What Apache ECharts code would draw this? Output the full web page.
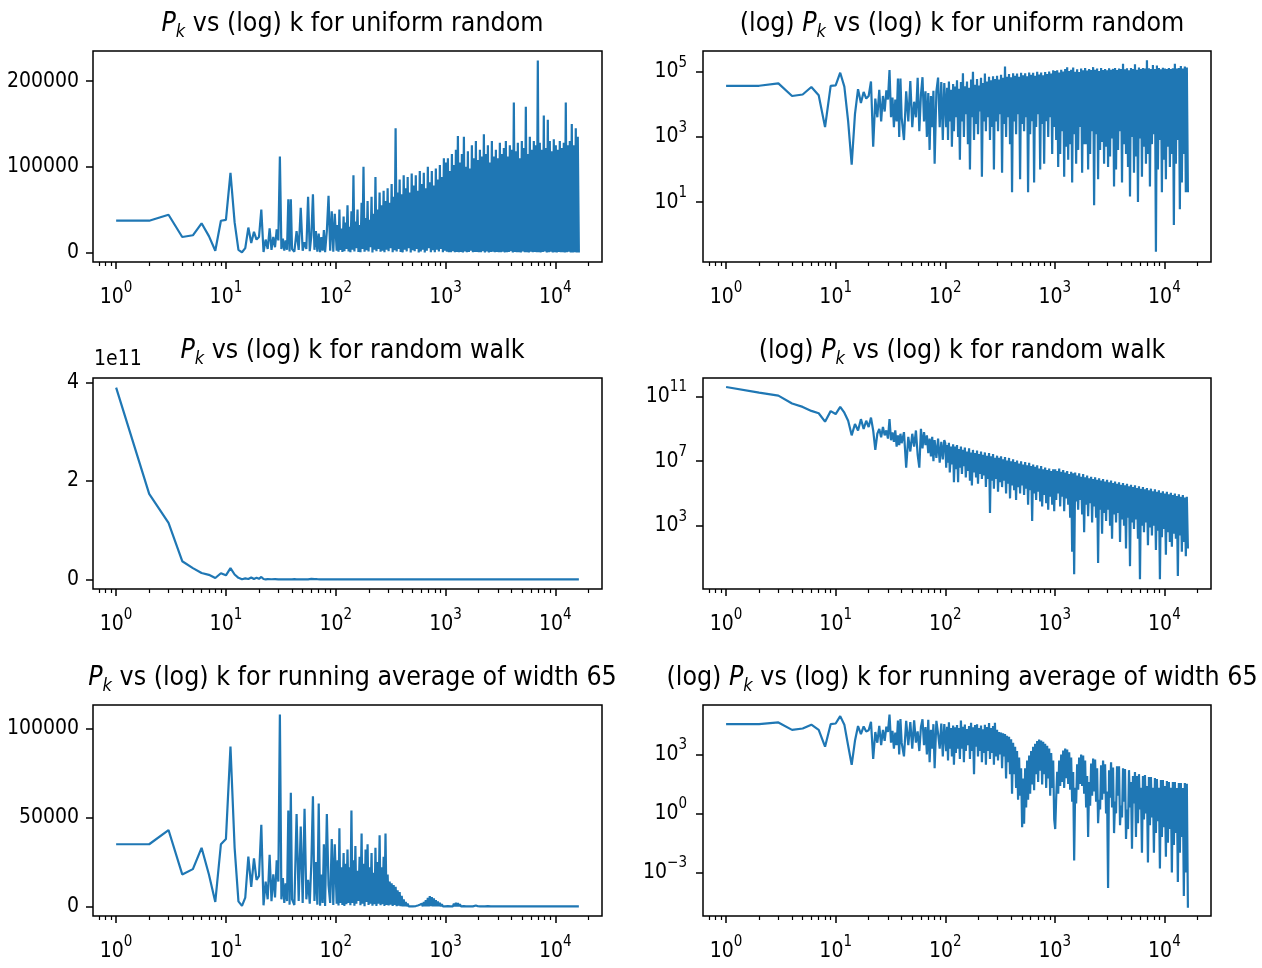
<!DOCTYPE html>
<html>
<head>
<meta charset="utf-8">
<title>Power spectra</title>
<script src="https://cdn.jsdelivr.net/npm/echarts@6/dist/echarts.min.js"></script>
<style>
  html, body { margin: 0; padding: 0; background: #fff; }
  #chart { width: 1262px; height: 968px; }
</style>
</head>
<body>
<div id="chart"></div>
<script>
  // wave numbers k (shared by the three spectra)
  const kValues = [
    1, 2, 3, 4, 5, 6, 7, 8, 9, 10, 11, 12, 13, 14, 15, 16, 17, 18, 19, 20,
    21, 22, 23, 24, 25, 26, 27, 28, 29, 30, 31, 32, 33, 34, 35, 36, 37, 38, 39, 40,
    42, 44, 46, 48, 50, 52, 54, 56, 58, 60, 62, 64, 66, 68, 70, 72, 74, 76, 78, 80, 83, 86, 89, 92, 95, 98,
    100, 102, 104, 106, 108, 110, 113, 115, 118, 120, 123, 125, 128, 131, 133, 136, 139, 142, 145, 148,
    151, 154, 158, 161, 165, 168, 172, 175, 179, 183, 187, 191, 195, 199, 203, 207, 212, 216, 221, 226,
    230, 235, 240, 245, 251, 256, 261, 267, 273, 278, 284, 290, 297, 303, 310, 316, 323, 330, 337, 344,
    351, 359, 366, 374, 382, 390, 399, 407, 416, 425, 434, 443, 452, 462, 472, 482, 492, 503, 513, 524,
    536, 547, 559, 570, 583, 595, 608, 621, 634, 647, 661, 675, 690, 704, 719, 735, 750, 766, 783, 799,
    816, 834, 851, 870, 888, 907, 926, 946, 966, 987,
    1008, 1029, 1051, 1073, 1096, 1119, 1143, 1167, 1192, 1217, 1243, 1269, 1296, 1324, 1352, 1380, 1409, 1439, 1470, 1501,
    1533, 1565, 1598, 1632, 1667, 1702, 1738, 1775, 1813, 1851, 1890, 1930, 1971, 2013, 2056, 2099, 2144, 2189, 2235, 2283,
    2331, 2380, 2431, 2482, 2535, 2588, 2643, 2699, 2756, 2815, 2874, 2935, 2997, 3061, 3125, 3191, 3259, 3328, 3398, 3470,
    3544, 3619, 3695, 3774, 3853, 3935, 4018, 4103, 4190, 4279, 4369, 4462, 4556, 4653, 4751, 4852, 4954, 5059, 5166, 5276,
    5387, 5501, 5618, 5737, 5858, 5982, 6109, 6238, 6370, 6505, 6643, 6783, 6927, 7074, 7224, 7376, 7533, 7692, 7855, 8021,
    8191, 8365, 8542, 8723, 8907, 9096, 9289, 9485, 9686, 9891, 10101, 10314, 10533, 10756, 10984, 11216, 11454, 11696, 11944, 12197,
    12455, 12719, 12988, 13263, 13544, 13831, 14124, 14423, 14728, 15040, 15358, 15683, 16015, 16384
  ]

  // P_k of the uniform random signal
  const uniformPower = [
    3.7e4, 3.7e4, 4.4e4, 1.8e4, 2.0e4, 3.4e4, 1.9e4, 2.0e3, 3.7e4, 3.8e4,
    9.3e4, 3.5e4, 3.0e3, 1.4e2, 5.0e3, 2.9e4, 1.1e4, 2.4e4, 1.5e4, 1.8e4,
    5.0e4, 5.0e2, 1.5e4, 4.0e3, 2.8e4, 3.0e3, 1.8e4, 6.0e3, 2.7e4, 1.4e4,
    1.12e5, 4.0e3, 1.6e4, 2.0e3, 1.4e4, 3.0e3, 6.2e4, 1.0e3, 6.2e4, 4.0e3,
    8e2, 2.5e4, 3e3, 5.2e4, 2e3, 1.2e4, 4e3, 6.5e4, 1.5e3, 2e4, 6.8e4, 3e3, 2.5e4,
    1e3, 2.2e4, 4e2, 1.8e4, 2e3, 2.6e4, 1.5e2, 2.5e4, 6.6e4, 2e3, 4.8e4, 8e2, 4.5e4,
    4.5e4, 2e3, 3.2e4, 8e2, 5e4, 3e3, 2.8e4, 5e2, 4.2e4, 1.5e3,
    3.5e4, 4e3, 5.5e4, 1e3, 3e4, 2e2, 4.8e4, 3e3, 9e4, 1e3,
    3.6e4, 5e3, 5e4, 6e2, 3.2e4, 1e2, 5.8e4, 4e3, 1e5, 8e2,
    4e4, 2.5e3, 6e4, 1.2e3, 3.8e4, 6e3, 6.5e4, 60, 4.5e4, 3e3,
    8.8e4, 1.5e3, 5e4, 4e3, 7e4, 8e2, 5.5e4, 2e3, 7.2e4, 1e2,
    6e4, 3e3, 7.5e4, 1.5e3, 5.8e4, 5e3, 8e4, 80, 6.5e4, 2.5e3,
    1.45e5, 1e3, 7e4, 4e3, 8.5e4, 6e2, 6.8e4, 2e1, 9e4, 3e3,
    7.5e4, 1.2e3, 8.8e4, 5e3, 7e4, 50, 9.2e4, 2.5e3, 7.8e4, 1.5e3,
    9e4, 4e3, 7.2e4, 2e1, 9.5e4, 1.2e3, 8e4, 3e3, 9.3e4, 40,
    7.5e4, 2e3, 1e5, 5e3, 8.2e4, 1e2, 9.5e4, 2.5e3, 7.8e4, 1.5e2,
    9.8e4, 3e3, 8.5e4, 1e3, 1.02e5, 4e3, 8.8e4, 3e2, 1.1e5, 2e3,
    1.05e5, 8e2, 1.1e5, 1.2e2, 9.5e4, 3e2, 1.15e5, 1.5e3, 1.02e5, 60,
    1.2e5, 5e2, 1.36e5, 2e2, 1.05e5, 6e2, 1.15e5, 4e1, 1.35e5, 1.2e3,
    1.0e5, 1.5e2, 1.18e5, 4e2, 9.8e4, 2e3, 1.25e5, 80, 1.1e5, 6e2,
    1.3e5, 6e2, 1.08e5, 1e2, 1.2e5, 3e2, 1.12e5, 1.5e3, 1.38e5, 8,
    1.15e5, 1.2e3, 1.25e5, 50, 1.05e5, 4e2, 1.3e5, 7e2, 1.12e5, 1.5e2,
    1.2e5, 5e2, 1.1e5, 1.2e2, 1.28e5, 2.5e2, 1.15e5, 9e2, 1.22e5, 3e1,
    1.3e5, 1e2, 1.12e5, 4e2, 1.25e5, 1.5e3, 1.2e5, 40, 1.75e5, 6e2,
    1.18e5, 3e2, 1.28e5, 1.2e2, 1.1e5, 1.5e1, 1.3e5, 1e3, 1.22e5, 80,
    1.7e5, 2.5e2, 1.15e5, 1e1, 1.35e5, 9e2, 1.2e5, 60, 1.3e5, 5e2,
    1.25e5, 1.5e2, 2.24e5, 3e2, 1.28e5, 30, 1.2e5, 6e2, 1.6e5, 1.2e3,
    1.22e5, 0.3, 1.55e5, 1e2, 1.3e5, 8e2, 1.18e5, 2e1, 1.32e5, 2e2,
    1.25e5, 50, 1.2e5, 5e2, 1.3e5, 1.2e2, 1.22e5, 3e2, 1.28e5, 2,
    1.75e5, 1.5e2, 1.25e5, 8e2, 1.3e5, 6, 1.5e5, 40, 1.25e5, 3e2,
    1.45e5, 2e1, 1.35e5, 2e1
  ]

  // P_k of the random walk
  const walkPower = [
    3.9e11, 1.74e11, 1.15e11, 3.7e10, 2.3e10, 1.3e10, 9.3e9, 2.8e9, 1.26e10, 8.3e9,
    2.3e10, 1e10, 3.2e9, 4e8, 2e9, 8e8, 4e9, 1e9, 3.2e9, 1.3e9,
    5e9, 8e8, 5e7, 5e8, 1e9, 3e8, 1.3e9, 4e8, 8e8, 2.5e8,
    4e9, 2e8, 6e8, 1.6e8, 8e8, 8e7, 4e8, 1e8, 5e8, 1.3e8,
    6.3e8, 4e6, 3.2e8, 4e7, 5e8, 8e7, 8e8, 2.5e7, 4e6, 1e9, 6.3e7, 6.3e8, 1e8,
    4e8, 3.2e7, 2.5e8, 2e7, 3.2e8, 1e7, 2e8, 1.6e7, 2.5e8, 8e6, 1.6e8, 1.3e7, 2e8,
    1.3e8, 4e6, 1e8, 8e6, 1.4e8, 2e6, 8e7, 6.3e6, 1.1e8, 5e5,
    8e7, 3.2e6, 1e8, 5e5, 5.6e7, 4e6, 8e7, 1.6e6, 5e7, 5e6,
    7.1e7, 1e6, 4e7, 2.5e6, 6.3e7, 6.3e5, 3.5e7, 3.2e5, 5e7, 2e6,
    3.2e7, 1e6, 4.5e7, 4e5, 2.8e7, 1.6e6, 4e7, 8e5, 2.5e7, 1.3e6,
    3.5e7, 2.5e5, 2.2e7, 8e5, 3.2e7, 6.3e3, 2e7, 6.3e5, 2.8e7, 2e5,
    1.6e7, 8e5, 2.2e7, 1.3e5, 1.6e7, 5e5, 2e7, 2.5e5, 1.3e7, 6.3e5,
    1.8e7, 1e5, 1.1e7, 4e5, 1.6e7, 5e4, 1e7, 3.2e5, 1.3e7, 1.6e5,
    8.9e6, 4e4, 1.1e7, 2.5e5, 7.1e6, 1e5, 1e7, 3.2e5, 6.3e6, 8e4,
    8.9e6, 2e5, 5.6e6, 2e4, 8e6, 1.6e5, 5e6, 2e3, 6.3e6, 1e5,
    4.5e6, 4e4, 5.6e6, 1.3e5, 3.5e6, 3.2e4, 5e6, 1.6e4, 3.2e6, 8e4,
    4e6, 2.5e4, 2.8e6, 1e4, 3.5e6, 6.3e4, 2.5e6, 2e4, 3.2e6, 8e3,
    3.2e6, 4e4, 2.5e6, 1e5, 3.5e6, 1.6e4, 2.2e6, 6.3e4, 2.8e6, 8e3,
    2e6, 5e4, 2.5e6, 2e4, 1.6e6, 3.2e3, 2.2e6, 25, 1.8e6, 1,
    2e6, 3.2e4, 1.3e6, 1e4, 1.8e6, 4e4, 1.1e6, 5e3, 1.6e6, 4e2,
    1e6, 2e4, 1.3e6, 4e3, 8.9e5, 2.5e4, 1.1e6, 1.6e3, 8e5, 1.6e4,
    1e6, 3.2e3, 7.1e5, 5, 8.9e5, 1e4, 6.3e5, 3.2e2, 8e5, 6.3e3,
    5.6e5, 2e3, 7.1e5, 1e4, 5e5, 1e3, 6.3e5, 1.6e2, 4.5e5, 5e3,
    5.6e5, 1.6e3, 4e5, 6.3e3, 5e5, 1e2, 3.5e5, 2.5e3, 4.5e5, 1e3,
    3.2e5, 40, 4e5, 3.2e3, 2.8e5, 3.2, 3.5e5, 1.6e3, 2.5e5, 6.3e2,
    3.2e5, 2.5e3, 2.2e5, 1.6e2, 2.8e5, 0.5, 2e5, 1e3, 2.5e5, 4e2,
    1.8e5, 1.6e3, 2.2e5, 63, 1.6e5, 8e2, 2e5, 2.5e2, 1.4e5, 1e3,
    1.8e5, 32, 1.3e5, 5e2, 1.6e5, 0.5, 1.1e5, 2e2, 1.4e5, 6.3e2,
    1e5, 16, 1.3e5, 4e2, 8.9e4, 1e2, 1.1e5, 50, 8e4, 3.2e2,
    1e5, 1.6e2, 7.1e4, 0.8, 8.9e4, 2.5e2, 6.3e4, 25, 8e4, 1e2,
    5.6e4, 13, 6.3e4, 40
  ]

  // P_k of the running average (width 65)
  const averagePower = [
    3.5e4, 3.5e4, 4.3e4, 1.8e4, 2.1e4, 3.3e4, 1.8e4, 2.5e3, 3.5e4, 3.8e4,
    9.0e4, 3.3e4, 2.8e3, 3e2, 5e3, 2.8e4, 1.1e4, 2.7e4, 1.5e4, 1.7e4,
    4.6e4, 6e2, 1.4e4, 4e3, 2.9e4, 3e3, 1.8e4, 5e3, 2.6e4, 1.4e4,
    1.08e5, 4e3, 1.6e4, 2e3, 1.3e4, 3e3, 5.4e4, 1e3, 6.4e4, 4e3,
    8e2, 5.2e4, 3e3, 4.5e4, 2e3, 5.5e4, 4e3, 1.5e4, 1.5e3, 2.5e4, 6.2e4, 3e3, 2.5e4,
    1e3, 5.8e4, 4e2, 1.8e4, 2e3, 3.5e4, 2e2, 5.2e4, 1.2e4, 2e3, 3.8e4, 8e2, 3.5e4,
    3.5e4, 1.5e3, 2.6e4, 5e2, 4.4e4, 2e3, 2.2e4, 8e2, 3e4, 3e2,
    2.4e4, 1.2e3, 3.2e4, 2e3, 2.2e4, 6e2, 5.4e4, 2e3, 2.6e4, 4e2,
    3.4e4, 1.5e3, 2e4, 3e3, 2.8e4, 6e2, 4.1e4, 1.5e3, 2.4e4, 1e2,
    3.2e4, 2.5e3, 3.5e4, 8e2, 2.2e4, 1.5e3, 3e4, 4e2, 1.9e4, 1.2e3,
    3.3e4, 3e2, 2.5e4, 1.5e3, 4e4, 6e2, 2.2e4, 1.2e3, 2.8e4, 3e2,
    4.1e4, 8e2, 1.8e4, 5e2, 1.4e4, 1e3, 1.3e4, 2e2, 1.2e4, 8e2,
    1.1e4, 6e1, 9e3, 4e2, 8e3, 1e2, 6e3, 1e1, 4e3, 1e2,
    2.5e3, 2e1, 1.5e3, 5, 7e2, 8, 2e2, 0.2, 60, 0.3,
    2e2, 2, 5e2, 5, 9e2, 1e1, 1.5e3, 3e1, 2.5e3, 1.5e1,
    3.5e3, 1e2, 4.8e3, 4e1, 5.8e3, 1.5e2, 5.2e3, 3e1, 4.5e3, 1e2,
    3.5e3, 2e1, 2.8e3, 6e1, 2e3, 8, 1.2e3, 2e1, 5e2, 0.5,
    0.16, 6.3, 1.3e2, 10, 5e2, 25, 1e3, 40, 1.6e3, 20,
    2e3, 63, 1.8e3, 32, 1.3e3, 16, 7.1e2, 4, 1.3e2, 0.004,
    20, 3.2, 3.2e2, 16, 7.1e2, 32, 1e3, 25, 8.9e2, 10,
    5e2, 2, 80, 0.063, 40, 2.5, 3.5e2, 8, 6.3e2, 13,
    5.6e2, 4, 2e2, 0.32, 5, 1.6, 2.8e2, 5, 5e2, 10,
    3.2e2, 1, 13, 1.6e-4, 1.6e2, 6.3, 4e2, 2, 2.2e2, 0.1,
    4, 1, 2.5e2, 8, 2.5e2, 0.25, 2.5, 0.63, 2e2, 4,
    1.8e2, 0.05, 1.6, 0.16, 1.6e2, 2, 40, 0.016, 80, 3.2,
    1.3e2, 0.063, 80, 0.32, 1e2, 1.6, 20, 0.01, 80, 0.5,
    89, 1, 25, 0.0032, 71, 0.25, 71, 0.63, 20, 0.01,
    63, 0.1, 56, 0.4, 20, 0.0016, 50, 0.063, 50, 0.2,
    25, 0.0063, 45, 0.032, 40, 0.16, 20, 0.001, 40, 0.025,
    40, 0.1, 20, 3.2e-4, 35, 0.01, 35, 0.063, 20, 6.3e-5,
    35, 0.001, 32, 1.6e-5
  ]

  // tick positions (x ticks are powers of ten of k)
  const xExponents = [0, 1, 2, 3, 4]
  const uniformLinearTicks = [0, 100000, 200000]
  const uniformLogTicks = [1, 3, 5]
  const walkLinearTicks = [0, 2e11, 4e11]
  const walkLogTicks = [3, 7, 11]
  const averageLinearTicks = [0, 50000, 100000]
  const averageLogTicks = [-3, 0, 3]

  const FONT = "'DejaVu Sans Condensed', 'DejaVu Sans', sans-serif"
  const BLUE = '#1f77b4'
  const X_MIN = -0.2107
  const X_MAX = 4.4251

  // minor ticks of the log k axis: 2..9 times each decade
  const minorTicks = []
  for (let n = -1; n <= 4; n++) {
    for (let m = 2; m <= 9; m++) {
      const v = n + Math.log10(m)
      if (v > X_MIN && v < X_MAX) minorTicks.push(v)
    }
  }

  const powerLabel = v => '{b|10}{s|' + String(v).replace('-', '\u2212') + '}'
  const tickRich = {
    b: { fontFamily: FONT, fontSize: 21, color: '#000' },
    s: { fontFamily: FONT, fontSize: 15, color: '#000', padding: [0, 0, 18, 0] }
  }
  const titleRich = {
    n: { fontFamily: FONT, fontSize: 26.5, fontWeight: 'normal', color: '#000' },
    i: { fontFamily: FONT, fontSize: 26.5, fontWeight: 'normal', fontStyle: 'italic', color: '#000' },
    k: { fontFamily: FONT, fontSize: 18, fontWeight: 'normal', fontStyle: 'italic', color: '#000', padding: [16, 0, 0, 0] }
  }

  const panels = [
    { left: 93, top: 51, width: 509, power: uniformPower, log: false, min: -11200, max: 235200,
      ticks: uniformLinearTicks, label: v => String(v),
      title: '{i|P}{k|k}{n| vs (log) k for uniform random}' },
    { left: 703, top: 51, width: 508, power: uniformPower, log: true, min: -0.837, max: 5.635,
      ticks: uniformLogTicks, label: powerLabel,
      title: '{n|(log) }{i|P}{k|k}{n| vs (log) k for uniform random}' },
    { left: 93, top: 378, width: 509, power: walkPower, log: false, min: -0.195e11, max: 4.095e11,
      ticks: walkLinearTicks, label: v => String(v / 1e11),
      title: '{i|P}{k|k}{n| vs (log) k for random walk}' },
    { left: 703, top: 378, width: 508, power: walkPower, log: true, min: -0.91, max: 12.15,
      ticks: walkLogTicks, label: powerLabel,
      title: '{n|(log) }{i|P}{k|k}{n| vs (log) k for random walk}' },
    { left: 93, top: 705, width: 509, power: averagePower, log: false, min: -5400, max: 113400,
      ticks: averageLinearTicks, label: v => String(v),
      title: '{i|P}{k|k}{n| vs (log) k for running average of width 65}' },
    { left: 703, top: 705, width: 508, power: averagePower, log: true, min: -5.22, max: 5.52,
      ticks: averageLogTicks, label: powerLabel,
      title: '{n|(log) }{i|P}{k|k}{n| vs (log) k for running average of width 65}' }
  ]

  const tickLine = { color: '#000', width: 1.5 }
  const option = {
    animation: false,
    backgroundColor: '#fff',
    title: [],
    grid: [],
    xAxis: [],
    yAxis: [],
    series: [],
    graphic: [{
      type: 'text', left: 94, top: 349,
      style: { text: '1e11', font: '21px ' + FONT, fill: '#000' }
    }]
  }

  panels.forEach((p, i) => {
    option.grid.push({
      left: p.left, top: p.top, width: p.width, height: 211,
      show: true, borderColor: '#000', borderWidth: 1.5, backgroundColor: 'transparent'
    })
    option.title.push({
      text: p.title, left: p.left + p.width / 2, top: p.top - 49, textAlign: 'center',
      textStyle: { fontWeight: 'normal', rich: titleRich }
    })
    option.xAxis.push({
      gridIndex: i, type: 'value', position: 'bottom', min: X_MIN, max: X_MAX,
      axisLine: { show: false, onZero: false }, splitLine: { show: false },
      axisTick: { customValues: xExponents, length: 7, lineStyle: tickLine },
      axisLabel: { customValues: xExponents, margin: 19, formatter: powerLabel, rich: tickRich }
    })
    option.xAxis.push({
      gridIndex: i, type: 'value', position: 'bottom', min: X_MIN, max: X_MAX,
      axisLine: { show: false, onZero: false }, splitLine: { show: false }, axisLabel: { show: false },
      axisTick: { customValues: minorTicks, length: 4, lineStyle: { color: '#000', width: 1.2 } }
    })
    option.yAxis.push({
      gridIndex: i, type: 'value', position: 'left', min: p.min, max: p.max,
      axisLine: { show: false, onZero: false }, splitLine: { show: false },
      axisTick: { customValues: p.ticks, length: 7, lineStyle: tickLine },
      axisLabel: {
        customValues: p.ticks, margin: p.log ? 16 : 14, formatter: p.label,
        fontFamily: FONT, fontSize: 21, color: '#000', rich: tickRich
      }
    })
    option.series.push({
      type: 'line', xAxisIndex: 2 * i, yAxisIndex: i,
      symbol: 'none', showSymbol: false, silent: true,
      lineStyle: { color: BLUE, width: 2.2 },
      data: kValues.map((k, j) => [Math.log10(k), p.log ? Math.log10(p.power[j]) : p.power[j]])
    })
  })

  const chart = echarts.init(document.getElementById('chart'), null, { renderer: 'canvas' })
  chart.setOption(option)
</script>
</body>
</html>
